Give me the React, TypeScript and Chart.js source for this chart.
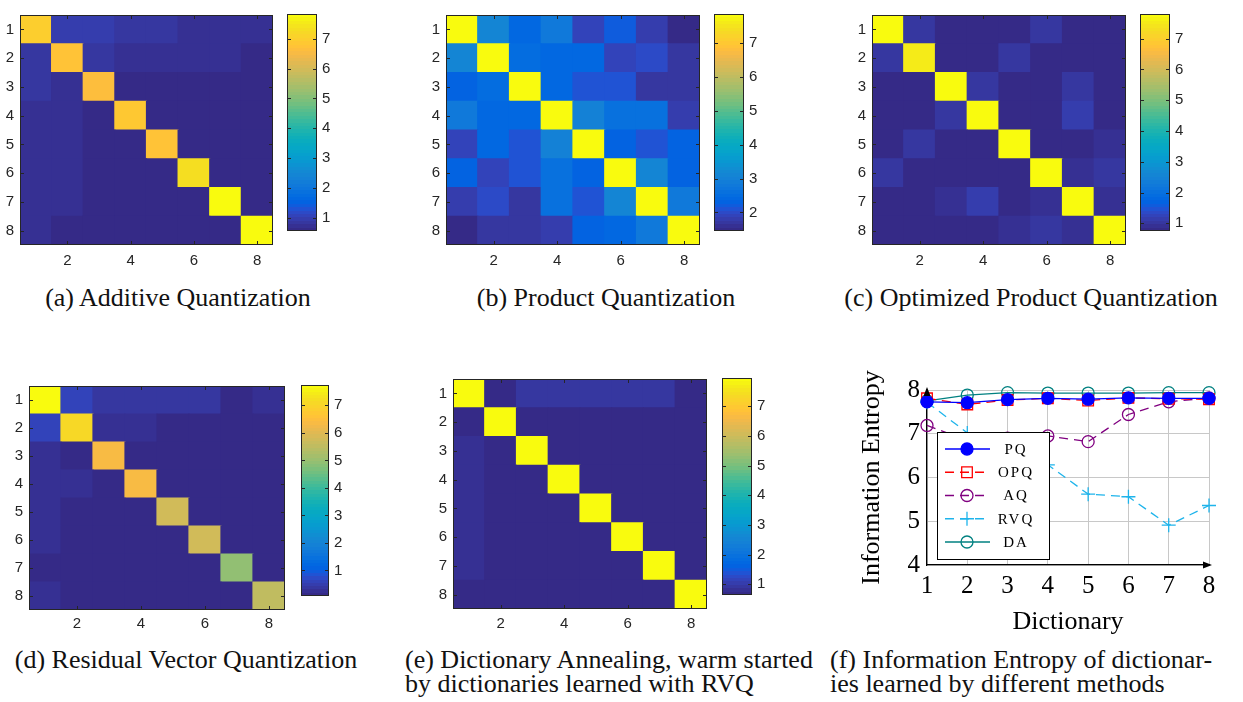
import { useEffect, useRef } from 'react';
import { Chart, registerables } from 'chart.js';
import type { ChartConfiguration, Plugin } from 'chart.js';
import { drawPoint } from 'chart.js/helpers';

Chart.register(...registerables);

// ---- data -----------------------------------------------------------------

const CELL_LABELS = ['1', '2', '3', '4', '5', '6', '7', '8'];

// (a) Additive Quantization
const AQ_MATRIX = [
  [7.0, 0.92, 0.92, 0.82, 0.82, 0.72, 0.72, 0.72],
  [0.85, 6.8, 0.8, 0.76, 0.76, 0.76, 0.76, 0.58],
  [0.85, 0.75, 6.6, 0.6, 0.6, 0.6, 0.6, 0.6],
  [0.75, 0.7, 0.6, 6.85, 0.6, 0.6, 0.6, 0.6],
  [0.75, 0.7, 0.6, 0.6, 6.75, 0.6, 0.6, 0.6],
  [0.7, 0.7, 0.6, 0.6, 0.6, 7.3, 0.6, 0.6],
  [0.7, 0.7, 0.6, 0.6, 0.6, 0.6, 7.83, 0.6],
  [0.68, 0.56, 0.56, 0.56, 0.56, 0.56, 0.56, 7.8],
];
const AQ_CB_TICKS = [1, 2, 3, 4, 5, 6, 7];

// (b) Product Quantization
const PQ_MATRIX = [
  [7.86, 3.1, 2.4, 2.85, 1.9, 2.25, 1.85, 1.45],
  [3.1, 7.86, 2.55, 2.45, 2.45, 1.9, 2.0, 1.75],
  [2.3, 2.55, 7.86, 2.4, 2.1, 2.1, 1.75, 1.75],
  [2.85, 2.4, 2.4, 7.86, 3.0, 2.6, 2.6, 1.8],
  [1.9, 2.4, 2.1, 3.0, 7.86, 2.3, 2.15, 2.35],
  [2.3, 1.9, 2.1, 2.6, 2.35, 7.86, 3.1, 2.35],
  [1.85, 2.0, 1.75, 2.6, 2.15, 3.1, 7.86, 2.85],
  [1.45, 1.7, 1.7, 1.8, 2.35, 2.4, 2.85, 7.86],
];
const PQ_CB_TICKS = [2, 3, 4, 5, 6, 7];

// (c) Optimized Product Quantization
const OPQ_MATRIX = [
  [7.8, 1.0, 0.75, 0.78, 0.8, 1.0, 0.8, 0.8],
  [1.0, 7.55, 0.78, 0.8, 1.0, 0.8, 0.78, 0.8],
  [0.78, 0.78, 7.8, 0.98, 0.8, 0.78, 0.98, 0.8],
  [0.78, 0.8, 0.98, 7.8, 0.8, 0.78, 1.1, 0.8],
  [0.8, 0.98, 0.78, 0.8, 7.8, 0.8, 0.78, 0.92],
  [1.0, 0.8, 0.78, 0.78, 0.8, 7.8, 0.92, 0.98],
  [0.78, 0.8, 0.92, 1.1, 0.78, 0.92, 7.8, 0.9],
  [0.8, 0.78, 0.8, 0.8, 0.92, 1.02, 0.92, 7.8],
];
const OPQ_CB_TICKS = [1, 2, 3, 4, 5, 6, 7];

// (d) Residual Vector Quantization
const RVQ_MATRIX = [
  [7.74, 0.56, 0.38, 0.38, 0.34, 0.34, 0.14, 0.28],
  [0.56, 7.05, 0.24, 0.24, 0.1, 0.1, 0.1, 0.1],
  [0.26, 0.16, 6.4, 0.1, 0.1, 0.1, 0.1, 0.1],
  [0.28, 0.2, 0.1, 6.35, 0.1, 0.1, 0.1, 0.1],
  [0.22, 0.1, 0.1, 0.1, 5.77, 0.1, 0.1, 0.1],
  [0.22, 0.1, 0.1, 0.1, 0.1, 5.72, 0.1, 0.1],
  [0.14, 0.1, 0.1, 0.1, 0.1, 0.1, 4.93, 0.1],
  [0.22, 0.07, 0.08, 0.08, 0.08, 0.08, 0.08, 5.53],
];
const RVQ_CB_TICKS = [1, 2, 3, 4, 5, 6, 7];

// (e) Dictionary Annealing
const DA_MATRIX = [
  [7.95, 0.68, 0.95, 0.95, 0.95, 0.95, 0.95, 0.7],
  [0.68, 7.92, 0.68, 0.68, 0.68, 0.68, 0.68, 0.68],
  [0.85, 0.68, 7.92, 0.68, 0.68, 0.68, 0.68, 0.68],
  [0.85, 0.68, 0.68, 7.92, 0.68, 0.68, 0.68, 0.68],
  [0.85, 0.68, 0.68, 0.68, 7.92, 0.68, 0.68, 0.68],
  [0.85, 0.68, 0.68, 0.68, 0.68, 7.92, 0.68, 0.68],
  [0.85, 0.68, 0.68, 0.68, 0.68, 0.68, 7.92, 0.68],
  [0.64, 0.68, 0.68, 0.68, 0.68, 0.68, 0.68, 7.92],
];
const DA_CB_TICKS = [1, 2, 3, 4, 5, 6, 7];

// (f) Information entropy per dictionary
const DICTIONARIES = [1, 2, 3, 4, 5, 6, 7, 8];
const PQ_ENTROPY = [7.73, 7.71, 7.78, 7.81, 7.79, 7.82, 7.81, 7.81];
const OPQ_ENTROPY = [7.81, 7.67, 7.77, 7.81, 7.76, 7.82, 7.8, 7.79];
const AQ_ENTROPY = [7.19, 6.85, 6.9, 6.95, 6.82, 7.44, 7.73, 7.82];
const RVQ_ENTROPY = [7.72, 7.02, 6.62, 6.29, 5.62, 5.56, 4.91, 5.36];
const DA_ENTROPY = [7.75, 7.885, 7.94, 7.93, 7.93, 7.93, 7.94, 7.94];

// ---- colour map (MATLAB parula, 64 steps) ----------------------------------

const PARULA = [
  [0.2081, 0.1663, 0.5292], [0.2116, 0.1898, 0.5777], [0.2123, 0.2138, 0.627], [0.2081, 0.2386, 0.6771],
  [0.1959, 0.2645, 0.7279], [0.1707, 0.2919, 0.7792], [0.1253, 0.3242, 0.8303], [0.0591, 0.3598, 0.8683],
  [0.0117, 0.3875, 0.882], [0.006, 0.4086, 0.8828], [0.0165, 0.4266, 0.8786], [0.0329, 0.443, 0.872],
  [0.0498, 0.4586, 0.8641], [0.0629, 0.4737, 0.8554], [0.0723, 0.4887, 0.8467], [0.0779, 0.504, 0.8384],
  [0.0793, 0.52, 0.8312], [0.0749, 0.5375, 0.8263], [0.0641, 0.557, 0.824], [0.0488, 0.5772, 0.8228],
  [0.0343, 0.5966, 0.8199], [0.0265, 0.6137, 0.8135], [0.0239, 0.6287, 0.8038], [0.0231, 0.6418, 0.7913],
  [0.0228, 0.6535, 0.7768], [0.0267, 0.6642, 0.7607], [0.0384, 0.6743, 0.7436], [0.059, 0.6838, 0.7254],
  [0.0843, 0.6928, 0.7062], [0.1133, 0.7015, 0.6859], [0.1453, 0.7098, 0.6646], [0.1801, 0.7177, 0.6424],
  [0.2178, 0.725, 0.6193], [0.2586, 0.7317, 0.5954], [0.3022, 0.7376, 0.5712], [0.3482, 0.7424, 0.5473],
  [0.3953, 0.7459, 0.5244], [0.442, 0.7481, 0.5033], [0.4871, 0.7491, 0.484], [0.53, 0.7491, 0.4661],
  [0.5709, 0.7485, 0.4494], [0.6099, 0.7473, 0.4337], [0.6473, 0.7456, 0.4188], [0.6834, 0.7435, 0.4044],
  [0.7184, 0.7411, 0.3905], [0.7525, 0.7384, 0.3768], [0.7858, 0.7356, 0.3633], [0.8185, 0.7327, 0.3498],
  [0.8507, 0.7299, 0.336], [0.8824, 0.7274, 0.3217], [0.9139, 0.7258, 0.3063], [0.945, 0.7261, 0.2886],
  [0.9739, 0.7314, 0.2666], [0.9938, 0.7455, 0.2403], [0.999, 0.7653, 0.2164], [0.9955, 0.7861, 0.1967],
  [0.988, 0.8066, 0.1794], [0.9789, 0.8271, 0.1633], [0.9697, 0.8481, 0.1475], [0.9626, 0.8705, 0.1309],
  [0.9589, 0.8949, 0.1132], [0.9598, 0.9218, 0.0948], [0.9661, 0.9514, 0.0755], [0.9763, 0.9831, 0.0538],
].map(([r, g, b]) => `rgb(${Math.round(r * 255)},${Math.round(g * 255)},${Math.round(b * 255)})`);

function parula(v: number, cmin: number, cmax: number) {
  const i = Math.floor(((v - cmin) / (cmax - cmin)) * PARULA.length);
  return PARULA[Math.max(0, Math.min(PARULA.length - 1, i))];
}

// ---- layout ----------------------------------------------------------------

const TICK_FONT = { family: '"Liberation Sans", Arial, sans-serif', size: 15 };
const TICK_COLOR = '#262626';
const SERIF = '"Liberation Serif", "Times New Roman", serif';
const Y_AXIS_W = 28;
const X_AXIS_H = 32;
const CB_AXIS_W = 26;

const HEATMAPS = [
  { id: 'a', matrix: AQ_MATRIX, cbTicks: AQ_CB_TICKS, left: 20, top: 0, width: 253, height: 245, cbLeft: 287, cbWidth: 30, tickPad: 7 },
  { id: 'b', matrix: PQ_MATRIX, cbTicks: PQ_CB_TICKS, left: 446, top: 0, width: 254, height: 245, cbLeft: 714, cbWidth: 30, tickPad: 7 },
  { id: 'c', matrix: OPQ_MATRIX, cbTicks: OPQ_CB_TICKS, left: 872, top: 0, width: 254, height: 245, cbLeft: 1140, cbWidth: 30, tickPad: 7 },
  { id: 'd', matrix: RVQ_MATRIX, cbTicks: RVQ_CB_TICKS, left: 29, top: 371, width: 256, height: 239, cbLeft: 301, cbWidth: 28, tickPad: 5 },
  { id: 'e', matrix: DA_MATRIX, cbTicks: DA_CB_TICKS, left: 453, top: 364, width: 254, height: 245, cbLeft: 722, cbWidth: 30, tickPad: 6 },
];

const CAPTIONS = [
  { lines: ['(a) Additive Quantization'], center: 178, top: 286 },
  { lines: ['(b) Product Quantization'], center: 606, top: 286 },
  { lines: ['(c) Optimized Product Quantization'], center: 1031, top: 286 },
  { lines: ['(d) Residual Vector Quantization'], center: 186, top: 648 },
  { lines: ['(e) Dictionary Annealing, warm started', 'by dictionaries learned with RVQ'], left: 405, top: 648 },
  { lines: ['(f) Information Entropy of dictionar-', 'ies learned by different methods'], left: 830, top: 648 },
];

const SERIES = [
  { label: 'PQ', values: PQ_ENTROPY, color: 'rgb(0,0,255)', dash: [], pointStyle: 'circle', radius: 6, filled: true },
  { label: 'OPQ', values: OPQ_ENTROPY, color: 'rgb(255,0,0)', dash: [9, 6], pointStyle: 'rect', radius: 7.5, filled: false },
  { label: 'AQ', values: AQ_ENTROPY, color: 'rgb(128,0,128)', dash: [9, 6], pointStyle: 'circle', radius: 6, filled: false },
  { label: 'RVQ', values: RVQ_ENTROPY, color: 'rgb(30,180,235)', dash: [9, 6], pointStyle: 'cross', radius: 7, filled: false },
  { label: 'DA', values: DA_ENTROPY, color: 'rgb(0,128,128)', dash: [], pointStyle: 'circle', radius: 6, filled: false },
];

// ---- plugins ---------------------------------------------------------------

// box around the axes and small inward tick marks, MATLAB style
const axesBox: Plugin = {
  id: 'axesBox',
  afterDatasetsDraw(chart) {
    const { ctx, chartArea: a } = chart;
    ctx.save();
    ctx.strokeStyle = TICK_COLOR;
    ctx.lineWidth = 1;
    ctx.beginPath();
    Object.values(chart.scales).forEach((sc) => {
      if (!sc.options.display) return;
      sc.ticks.forEach((t, i) => {
        if (!t.label) return;
        const p = Math.round(sc.getPixelForTick(i)) + 0.5;
        if (sc.isHorizontal()) {
          ctx.moveTo(p, a.bottom);
          ctx.lineTo(p, a.bottom - 4);
          ctx.moveTo(p, a.top);
          ctx.lineTo(p, a.top + 4);
        } else {
          ctx.moveTo(a.left, p);
          ctx.lineTo(a.left + 4, p);
          ctx.moveTo(a.right, p);
          ctx.lineTo(a.right - 4, p);
        }
      });
    });
    ctx.stroke();
    ctx.strokeRect(a.left + 0.5, a.top + 0.5, a.width - 1, a.height - 1);
    ctx.restore();
  },
};

// arrow heads on the axis lines and the boxed legend of panel (f)
const entropyDecor: Plugin = {
  id: 'entropyDecor',
  afterDraw(chart) {
    const { ctx, chartArea: a } = chart;
    ctx.save();
    ctx.fillStyle = '#000';
    ctx.beginPath();
    ctx.moveTo(a.left, a.top - 3);
    ctx.lineTo(a.left - 3.5, a.top + 6);
    ctx.lineTo(a.left + 3.5, a.top + 6);
    ctx.closePath();
    ctx.moveTo(a.right + 3, a.bottom);
    ctx.lineTo(a.right - 6, a.bottom - 3.5);
    ctx.lineTo(a.right - 6, a.bottom + 3.5);
    ctx.closePath();
    ctx.fill();

    const x0 = a.left + 10;
    const y0 = a.top + 42;
    ctx.fillStyle = '#fff';
    ctx.fillRect(x0, y0, 112, 127);
    ctx.strokeStyle = '#000';
    ctx.lineWidth = 1;
    ctx.strokeRect(x0 + 0.5, y0 + 0.5, 112, 127);
    chart.data.datasets.forEach((ds: any, i) => {
      const y = y0 + 17 + i * 23.25;
      ctx.strokeStyle = ds.borderColor;
      ctx.lineWidth = ds.borderWidth;
      ctx.setLineDash(ds.borderDash);
      ctx.beginPath();
      ctx.moveTo(x0 + 8, y);
      ctx.lineTo(x0 + 53, y);
      ctx.stroke();
      ctx.setLineDash([]);
      ctx.fillStyle = ds.pointBackgroundColor;
      ctx.strokeStyle = ds.pointBorderColor;
      ctx.lineWidth = ds.pointBorderWidth;
      drawPoint(ctx, { pointStyle: ds.pointStyle, radius: ds.pointRadius, rotation: 0, borderWidth: ds.pointBorderWidth }, x0 + 30, y);
      ctx.fillStyle = '#000';
      ctx.font = `15px ${SERIF}`;
      (ctx as any).letterSpacing = '2px';
      ctx.textAlign = 'center';
      ctx.textBaseline = 'middle';
      ctx.fillText(ds.label, x0 + 79, y + 1);
      (ctx as any).letterSpacing = '0px';
    });
    ctx.restore();
  },
};

// ---- chart configs ---------------------------------------------------------

function heatmapConfig(matrix: number[][], tickPad: number): ChartConfiguration<'bar'> {
  const all = matrix.flat();
  const cmin = Math.min(...all);
  const cmax = Math.max(...all);
  const datasets = matrix
    .map((row) => ({
      data: row.map(() => 1),
      backgroundColor: row.map((v) => parula(v, cmin, cmax)),
      borderWidth: 0,
      inflateAmount: 0.6,
      categoryPercentage: 1,
      barPercentage: 1,
    }))
    .reverse();
  return {
    type: 'bar',
    data: { labels: CELL_LABELS, datasets },
    options: {
      animation: false,
      responsive: false,
      layout: { padding: { right: 2, top: 0, bottom: 0, left: 0 } },
      plugins: { legend: { display: false }, tooltip: { enabled: false } },
      scales: {
        x: {
          stacked: true,
          grid: { display: false, drawTicks: false },
          border: { display: false },
          ticks: {
            autoSkip: false,
            maxRotation: 0,
            padding: tickPad,
            color: TICK_COLOR,
            font: TICK_FONT,
            callback: (_v, i) => (i % 2 === 1 ? CELL_LABELS[i] : ''),
          },
          afterFit: (s) => {
            s.height = X_AXIS_H;
          },
        },
        y: {
          type: 'linear',
          stacked: true,
          min: 0,
          max: CELL_LABELS.length,
          grid: { display: false, drawTicks: false },
          border: { display: false },
          afterBuildTicks: (s) => {
            s.ticks = CELL_LABELS.map((_, i) => ({ value: i + 0.5 }));
          },
          ticks: {
            padding: 6,
            color: TICK_COLOR,
            font: TICK_FONT,
            callback: (v) => CELL_LABELS[Math.round(CELL_LABELS.length - 0.5 - Number(v))],
          },
          afterFit: (s) => {
            s.width = Y_AXIS_W;
          },
        },
      },
    },
    plugins: [axesBox],
  };
}

function colorbarConfig(matrix: number[][], ticks: number[]): ChartConfiguration<'bar'> {
  const all = matrix.flat();
  const cmin = Math.min(...all);
  const cmax = Math.max(...all);
  return {
    type: 'bar',
    data: {
      labels: ['c'],
      datasets: [
        {
          data: [[cmin, cmax]] as any,
          backgroundColor: (c: any) => {
            const ys = c.chart.scales.y;
            if (!ys) return PARULA[0];
            const y0 = ys.getPixelForValue(cmin);
            const y1 = ys.getPixelForValue(cmax);
            if (!Number.isFinite(y0) || !Number.isFinite(y1) || y0 === y1) return PARULA[0];
            const g = c.chart.ctx.createLinearGradient(0, y0, 0, y1);
            PARULA.forEach((col, i) => {
              g.addColorStop(i / PARULA.length, col);
              g.addColorStop((i + 1) / PARULA.length, col);
            });
            return g;
          },
          borderWidth: 0,
          categoryPercentage: 1,
          barPercentage: 1,
        },
      ],
    },
    options: {
      animation: false,
      responsive: false,
      plugins: { legend: { display: false }, tooltip: { enabled: false } },
      scales: {
        x: { display: false },
        y: {
          position: 'right',
          min: cmin,
          max: cmax,
          grid: { display: false, drawTicks: false },
          border: { display: false },
          afterBuildTicks: (s) => {
            s.ticks = ticks.map((value) => ({ value }));
          },
          ticks: { padding: 5, color: TICK_COLOR, font: TICK_FONT },
          afterFit: (s) => {
            s.width = CB_AXIS_W;
          },
        },
      },
    },
    plugins: [axesBox],
  };
}

function entropyConfig(): ChartConfiguration<'line'> {
  const serifTicks = { family: SERIF, size: 25 };
  return {
    type: 'line',
    data: {
      datasets: SERIES.map((s) => ({
        label: s.label,
        data: DICTIONARIES.map((x, i) => ({ x, y: s.values[i] })),
        borderColor: s.color,
        borderWidth: 1.3,
        borderDash: s.dash,
        tension: 0,
        pointStyle: s.pointStyle as any,
        pointRadius: s.radius,
        pointBorderColor: s.color,
        pointBackgroundColor: s.filled ? s.color : 'rgba(0,0,0,0)',
        pointBorderWidth: 1.3,
        clip: false as any,
      })),
    },
    options: {
      animation: false,
      responsive: false,
      layout: { padding: { top: 35, right: 34, left: 0, bottom: 0 } },
      plugins: { legend: { display: false }, tooltip: { enabled: false } },
      scales: {
        x: {
          type: 'linear',
          min: 1,
          max: 8,
          grid: { color: '#c8c8c8', drawTicks: false },
          border: { color: '#000', width: 1.3 },
          ticks: { stepSize: 1, padding: 6, color: '#000', font: serifTicks },
          title: { display: true, text: 'Dictionary', color: '#000', font: { family: SERIF, size: 26 }, padding: { top: 0, bottom: 7 } },
          afterFit: (s) => {
            s.height = 80;
          },
        },
        y: {
          type: 'linear',
          min: 4,
          max: 8,
          grid: { color: '#c8c8c8', drawTicks: false },
          border: { color: '#000', width: 1.3 },
          ticks: { stepSize: 1, padding: 7, color: '#000', font: serifTicks },
          title: { display: true, text: 'Information Entropy', color: '#000', font: { family: SERIF, size: 26 }, padding: { top: 17, bottom: 0 } },
          afterFit: (s) => {
            s.width = 87;
          },
        },
      },
    },
    plugins: [entropyDecor],
  };
}

// ---- components ------------------------------------------------------------

function ChartCanvas({ make, left, top, width, height }: { make: () => ChartConfiguration<any>; left: number; top: number; width: number; height: number }) {
  const canvasRef = useRef<HTMLCanvasElement>(null);

  useEffect(() => {
    if (!canvasRef.current) return;
    const chart = new Chart(canvasRef.current, make());
    return () => {
      chart.destroy();
    };
  }, []);

  return <canvas ref={canvasRef} width={width} height={height} style={{ position: 'absolute', left, top, width, height }} />;
}

export default function App() {
  return (
    <div style={{ position: 'absolute', left: 0, top: 0, width: 1243, height: 702, background: '#fff', overflow: 'hidden' }}>
      {HEATMAPS.map((p) => (
        <div key={p.id}>
          <ChartCanvas
            make={() => heatmapConfig(p.matrix, p.tickPad)}
            left={p.left - Y_AXIS_W}
            top={p.top}
            width={Y_AXIS_W + p.width + 2}
            height={p.height + X_AXIS_H}
          />
          <ChartCanvas make={() => colorbarConfig(p.matrix, p.cbTicks)} left={p.cbLeft} top={p.top} width={p.cbWidth + CB_AXIS_W} height={p.height} />
        </div>
      ))}
      <ChartCanvas make={entropyConfig} left={840} top={355} width={403} height={290} />
      {CAPTIONS.map((c, i) => (
        <div
          key={i}
          style={{
            position: 'absolute',
            top: c.top,
            left: c.center !== undefined ? c.center - 300 : c.left,
            width: c.center !== undefined ? 600 : undefined,
            textAlign: c.center !== undefined ? 'center' : 'left',
            fontFamily: SERIF,
            fontSize: 26,
            lineHeight: '24px',
            color: '#111',
            whiteSpace: 'nowrap',
          }}
        >
          {c.lines.map((l, j) => (
            <div key={j}>{l}</div>
          ))}
        </div>
      ))}
    </div>
  );
}
